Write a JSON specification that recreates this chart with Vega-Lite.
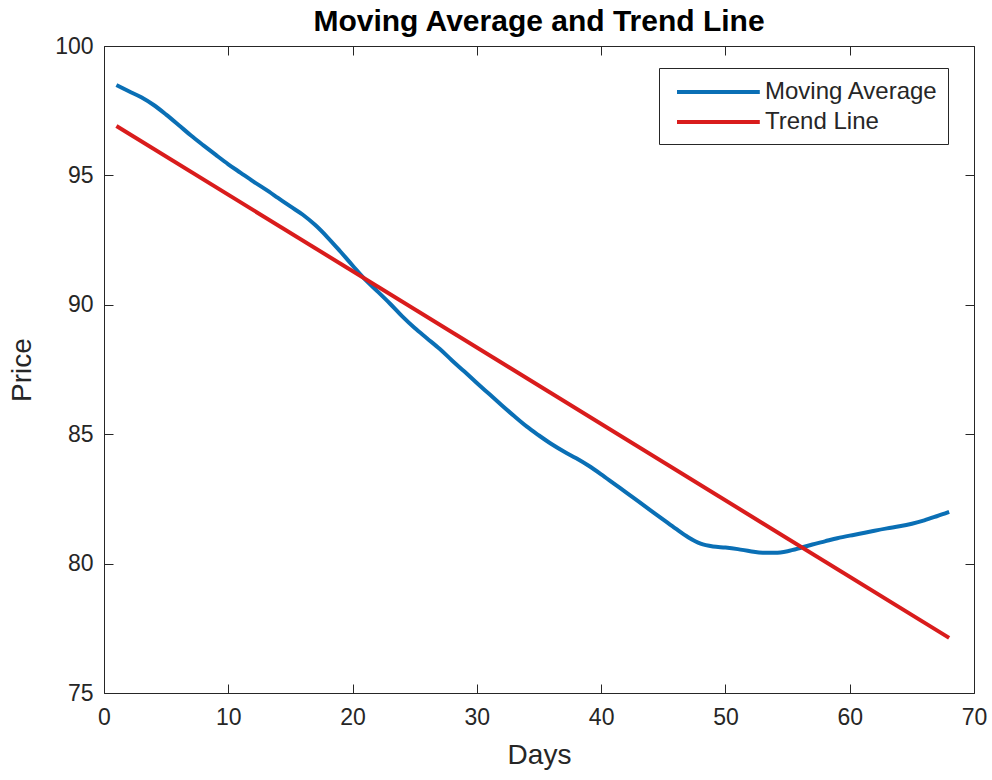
{
  "$schema": "https://vega.github.io/schema/vega-lite/v6.json",
  "width": 870,
  "height": 647,
  "autosize": "none",
  "padding": {"left": 104, "top": 46, "right": 18, "bottom": 87},
  "background": "white",
  "config": {"view": {"stroke": null}, "font": "Liberation Sans"},
  "title": {"text": "Moving Average and Trend Line", "fontSize": 30, "fontWeight": "bold", "font": "Liberation Sans", "color": "#000000", "anchor": "middle", "offset": 13, "baseline": "alphabetic", "dy": 39},
  "datasets": {
    "ma": [
      {"day": 1, "price": 98.49, "series": "Moving Average"},
      {"day": 2, "price": 98.25, "series": "Moving Average"},
      {"day": 3, "price": 98.02, "series": "Moving Average"},
      {"day": 4, "price": 97.72, "series": "Moving Average"},
      {"day": 5, "price": 97.35, "series": "Moving Average"},
      {"day": 6, "price": 96.95, "series": "Moving Average"},
      {"day": 7, "price": 96.54, "series": "Moving Average"},
      {"day": 8, "price": 96.16, "series": "Moving Average"},
      {"day": 9, "price": 95.79, "series": "Moving Average"},
      {"day": 10, "price": 95.43, "series": "Moving Average"},
      {"day": 11, "price": 95.1, "series": "Moving Average"},
      {"day": 12, "price": 94.77, "series": "Moving Average"},
      {"day": 13, "price": 94.46, "series": "Moving Average"},
      {"day": 14, "price": 94.13, "series": "Moving Average"},
      {"day": 15, "price": 93.8, "series": "Moving Average"},
      {"day": 16, "price": 93.48, "series": "Moving Average"},
      {"day": 17, "price": 93.08, "series": "Moving Average"},
      {"day": 18, "price": 92.6, "series": "Moving Average"},
      {"day": 19, "price": 92.07, "series": "Moving Average"},
      {"day": 20, "price": 91.52, "series": "Moving Average"},
      {"day": 21, "price": 90.98, "series": "Moving Average"},
      {"day": 22, "price": 90.52, "series": "Moving Average"},
      {"day": 23, "price": 90.05, "series": "Moving Average"},
      {"day": 24, "price": 89.55, "series": "Moving Average"},
      {"day": 25, "price": 89.1, "series": "Moving Average"},
      {"day": 26, "price": 88.7, "series": "Moving Average"},
      {"day": 27, "price": 88.3, "series": "Moving Average"},
      {"day": 28, "price": 87.85, "series": "Moving Average"},
      {"day": 29, "price": 87.42, "series": "Moving Average"},
      {"day": 30, "price": 86.98, "series": "Moving Average"},
      {"day": 31, "price": 86.55, "series": "Moving Average"},
      {"day": 32, "price": 86.12, "series": "Moving Average"},
      {"day": 33, "price": 85.7, "series": "Moving Average"},
      {"day": 34, "price": 85.3, "series": "Moving Average"},
      {"day": 35, "price": 84.95, "series": "Moving Average"},
      {"day": 36, "price": 84.62, "series": "Moving Average"},
      {"day": 37, "price": 84.33, "series": "Moving Average"},
      {"day": 38, "price": 84.07, "series": "Moving Average"},
      {"day": 39, "price": 83.78, "series": "Moving Average"},
      {"day": 40, "price": 83.45, "series": "Moving Average"},
      {"day": 41, "price": 83.1, "series": "Moving Average"},
      {"day": 42, "price": 82.75, "series": "Moving Average"},
      {"day": 43, "price": 82.4, "series": "Moving Average"},
      {"day": 44, "price": 82.05, "series": "Moving Average"},
      {"day": 45, "price": 81.7, "series": "Moving Average"},
      {"day": 46, "price": 81.35, "series": "Moving Average"},
      {"day": 47, "price": 81.02, "series": "Moving Average"},
      {"day": 48, "price": 80.77, "series": "Moving Average"},
      {"day": 49, "price": 80.66, "series": "Moving Average"},
      {"day": 50, "price": 80.62, "series": "Moving Average"},
      {"day": 51, "price": 80.56, "series": "Moving Average"},
      {"day": 52, "price": 80.48, "series": "Moving Average"},
      {"day": 53, "price": 80.42, "series": "Moving Average"},
      {"day": 54, "price": 80.42, "series": "Moving Average"},
      {"day": 55, "price": 80.48, "series": "Moving Average"},
      {"day": 56, "price": 80.6, "series": "Moving Average"},
      {"day": 57, "price": 80.74, "series": "Moving Average"},
      {"day": 58, "price": 80.86, "series": "Moving Average"},
      {"day": 59, "price": 80.98, "series": "Moving Average"},
      {"day": 60, "price": 81.08, "series": "Moving Average"},
      {"day": 61, "price": 81.17, "series": "Moving Average"},
      {"day": 62, "price": 81.27, "series": "Moving Average"},
      {"day": 63, "price": 81.36, "series": "Moving Average"},
      {"day": 64, "price": 81.44, "series": "Moving Average"},
      {"day": 65, "price": 81.54, "series": "Moving Average"},
      {"day": 66, "price": 81.67, "series": "Moving Average"},
      {"day": 67, "price": 81.83, "series": "Moving Average"},
      {"day": 68, "price": 82.0, "series": "Moving Average"}
    ],
    "trend": [
      {"day": 1, "price": 96.91, "series": "Trend Line"},
      {"day": 68, "price": 77.13, "series": "Trend Line"}
    ]
  },
  "layer": [
    {
      "data": {"name": "ma"},
      "mark": {"type": "line", "strokeWidth": 4, "interpolate": "monotone"},
      "encoding": {
        "x": {"field": "day", "type": "quantitative", "scale": {"domain": [0, 70], "nice": false},
          "axis": {"orient": "bottom", "values": [0, 10, 20, 30, 40, 50, 60, 70], "title": "Days", "titleFontSize": 28, "titleFontWeight": "normal", "titleColor": "#262626", "titlePadding": 12, "labelFontSize": 23, "labelColor": "#262626", "labelPadding": 22, "tickSize": -9, "tickColor": "#262626", "domainColor": "#262626", "grid": false, "labelFlush": false}},
        "y": {"field": "price", "type": "quantitative", "scale": {"domain": [75, 100], "nice": false, "zero": false},
          "axis": {"orient": "left", "values": [75, 80, 85, 90, 95, 100], "title": "Price", "titleFontSize": 28, "titleFontWeight": "normal", "titleColor": "#262626", "titlePadding": 18, "labelFontSize": 23, "labelColor": "#262626", "labelPadding": 20, "tickSize": -9, "tickColor": "#262626", "domainColor": "#262626", "grid": false}},
        "color": {"field": "series", "type": "nominal",
          "scale": {"domain": ["Moving Average", "Trend Line"], "range": ["#0a6fb5", "#d91c1c"]},
          "legend": {"title": null, "orient": "none", "legendX": 555, "legendY": 22, "strokeColor": "#262626", "fillColor": "white", "padding": 10, "symbolType": "M-0.5,0H6.4", "symbolSize": 576, "symbolStrokeWidth": 4, "symbolFillColor": "transparent", "labelFontSize": 24, "labelColor": "#262626", "labelOffset": 68, "labelLimit": 400, "rowPadding": 4}}
      }
    },
    {
      "data": {"name": "trend"},
      "mark": {"type": "line", "strokeWidth": 4},
      "encoding": {
        "x": {"field": "day", "type": "quantitative", "scale": {"domain": [0, 70], "nice": false},
          "axis": {"orient": "top", "values": [0, 10, 20, 30, 40, 50, 60, 70], "title": null, "labels": false, "tickSize": -9, "tickColor": "#262626", "domainColor": "#262626", "grid": false, "maxExtent": 0, "minExtent": 0}},
        "y": {"field": "price", "type": "quantitative", "scale": {"domain": [75, 100], "nice": false, "zero": false},
          "axis": {"orient": "right", "values": [75, 80, 85, 90, 95, 100], "title": null, "labels": false, "tickSize": -9, "tickColor": "#262626", "domainColor": "#262626", "grid": false, "maxExtent": 0, "minExtent": 0}},
        "color": {"field": "series", "type": "nominal"}
      }
    }
  ],
  "resolve": {"axis": {"x": "independent", "y": "independent"}}
}
